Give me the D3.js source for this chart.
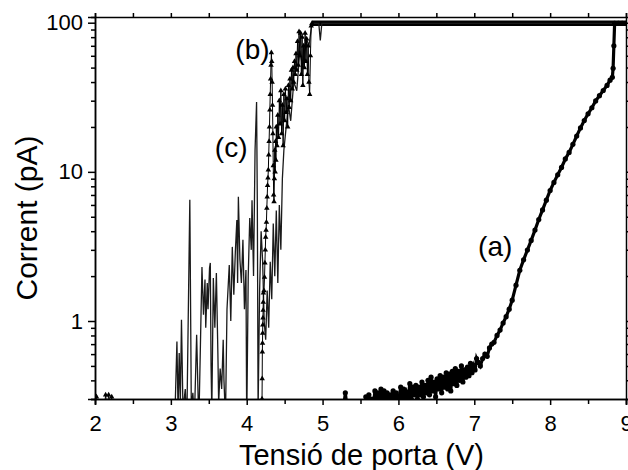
<!DOCTYPE html>
<html lang="ca">
<head>
<meta charset="UTF-8">
<title>Corrent - tensió de porta</title>
<script src="https://d3js.org/d3.v7.min.js"></script>
<style>
  body { margin: 0; background: #fff; }
  svg { display: block; font-family: "Liberation Sans", Arial, sans-serif; }
  .axis path, .axis line { stroke: #000; stroke-width: 1.5; }
  .axis text { font-size: 22px; fill: #000; }
  .lbl { font-size: 28px; fill: #000; }
  .title { font-size: 29px; fill: #000; }
</style>
</head>
<body>
<script>
const width = 628, height = 470;
const margin = {top: 17, right: 2, bottom: 71, left: 95};

// tick values
const xTicks = [2, 3, 4, 5, 6, 7, 8, 9];
const xMinor = [2.5, 3.5, 4.5, 5.5, 6.5, 7.5, 8.5];
const yTicks = [1, 10, 100];
const yMinor = [0.3, 0.4, 0.5, 0.6, 0.7, 0.8, 0.9, 2, 3, 4, 5, 6, 7, 8, 9, 20, 30, 40, 50, 60, 70, 80, 90];

// series (a): circles  [V, pA]
const serieA = [
  [5.25,0.2],[5.30,0.33],[5.35,0.2],[5.55,0.2],[5.57,0.31],[5.59,0.26],[5.61,0.32],[5.63,0.24],[5.65,0.30],
  [5.67,0.27],[5.69,0.34],[5.71,0.29],[5.73,0.33],[5.75,0.27],[5.77,0.35],[5.79,0.30],[5.81,0.34],[5.83,0.28],
  [5.85,0.33],[5.87,0.29],[5.89,0.32],[5.91,0.27],[5.93,0.34],[5.95,0.30],[5.97,0.33],[5.99,0.29],[6.01,0.31],
  [6.03,0.36],[6.05,0.30],[6.07,0.35],[6.09,0.29],[6.11,0.33],[6.13,0.31],[6.15,0.38],[6.17,0.30],[6.19,0.36],
  [6.21,0.32],[6.23,0.37],[6.25,0.30],[6.27,0.36],[6.29,0.32],[6.31,0.39],[6.33,0.31],[6.35,0.37],[6.37,0.33],
  [6.39,0.40],[6.41,0.32],[6.43,0.42],[6.45,0.34],[6.47,0.39],[6.49,0.31],[6.51,0.41],[6.53,0.35],[6.55,0.43],
  [6.57,0.33],[6.59,0.42],[6.61,0.36],[6.63,0.45],[6.65,0.35],[6.67,0.44],[6.69,0.34],[6.71,0.46],[6.73,0.38],
  [6.75,0.48],[6.77,0.37],[6.79,0.46],[6.81,0.40],[6.83,0.50],[6.85,0.39],[6.87,0.47],[6.89,0.42],[6.91,0.49],
  [6.93,0.43],[6.95,0.52],[6.97,0.45],[6.99,0.50],[7.01,0.47],[7.03,0.56],[7.05,0.53],[7.08,0.50],
  [7.11,0.56],[7.14,0.60],[7.17,0.58],[7.20,0.66],[7.23,0.70],[7.26,0.72],[7.30,0.80],[7.34,0.87],[7.38,0.97],
  [7.42,1.07],[7.46,1.20],[7.50,1.38],[7.55,1.74],[7.60,2.19],[7.65,2.57],[7.70,2.99],[7.75,3.47],[7.80,4.07],
  [7.85,4.79],[7.90,5.56],[7.95,6.46],[8.00,7.5],[8.05,8.5],[8.10,9.55],[8.15,10.7],[8.20,12.2],[8.25,13.5],
  [8.30,15.3],[8.35,17.4],[8.40,19.7],[8.45,22.1],[8.50,24.5],[8.55,26.9],[8.60,29.9],[8.65,32.4],[8.70,35.1],
  [8.75,38],[8.79,41.2],[8.82,43],[8.83,49.5],[8.84,70],[8.85,99],[8.90,99],[8.95,99],[9.00,99]
];

// series (b): triangles
const serieB = [
  [2.00,0.32],[2.02,0.31],[2.04,0.25],[2.08,0.2],[2.12,0.25],[2.14,0.32],[2.16,0.26],[2.18,0.32],[2.20,0.27],
  [2.22,0.31],[2.25,0.2],[4.20,0.2],[4.202,0.3],[4.204,0.41],[4.206,0.62],[4.208,0.71],[4.210,0.83],[4.212,0.94],
  [4.214,1.05],[4.216,1.18],[4.218,1.34],[4.220,1.54],[4.228,1.6],[4.235,1.97],[4.24,2.45],[4.245,3.0],[4.25,3.65],
  [4.255,4.06],[4.26,4.6],[4.265,5.7],[4.27,6.8],[4.275,8.1],[4.28,9.1],[4.285,10.3],[4.29,13],[4.295,16],[4.30,20],
  [4.305,26],[4.31,33],[4.315,42],[4.32,52],[4.325,63],[4.33,55],[4.335,40],[4.34,28],[4.345,18],[4.35,11],[4.355,7],
  [4.36,6.3],[4.365,9],[4.37,14],[4.375,10],[4.38,16],[4.385,12],[4.39,20],[4.40,15],[4.41,24],[4.42,17],[4.43,30],
  [4.44,21],[4.45,35],[4.46,18],[4.47,28],[4.48,15],[4.49,33],[4.50,22],[4.51,36],[4.52,25],[4.53,31],[4.54,20],
  [4.55,38],[4.56,27],[4.57,42],[4.58,30],[4.59,48],[4.60,36],[4.61,50],[4.62,40],[4.63,55],[4.64,45],[4.65,62],
  [4.66,48],[4.67,75],[4.68,52],[4.69,87],[4.70,60],[4.71,85],[4.72,45],[4.73,80],[4.74,38],[4.75,70],[4.76,50],
  [4.77,85],[4.78,55],[4.79,78],[4.80,45],[4.81,70],[4.82,40],[4.83,33],[4.84,60],[4.85,95],[4.86,99]
];

// series (c): line only
const serieC = [
  [3.05,0.2],[3.08,0.73],[3.095,0.25],[3.11,0.61],[3.125,0.28],[3.14,1.02],[3.16,0.25],[3.19,0.35],[3.21,0.2],
  [3.25,6.5],[3.27,0.25],[3.29,0.33],[3.31,0.22],[3.34,0.81],[3.36,0.3],[3.37,0.22],[3.39,0.7],[3.41,2.3],[3.43,1.1],
  [3.45,1.9],[3.46,0.9],[3.48,1.8],[3.49,1.2],[3.51,2.27],[3.52,2.45],[3.53,0.5],[3.54,0.25],[3.56,1.94],[3.58,0.9],
  [3.60,2.1],[3.62,0.6],[3.63,0.28],[3.65,0.48],[3.67,0.35],[3.69,0.75],[3.70,0.4],[3.72,0.22],[3.74,1.2],[3.77,2.37],
  [3.79,1.0],[3.81,3.14],[3.83,1.5],[3.85,2.9],[3.87,4.75],[3.88,1.8],[3.89,6.8],[3.91,2.6],[3.93,1.8],[3.95,3.5],
  [3.97,1.2],[3.99,2.2],[4.00,0.2],[4.02,2.0],[4.04,4.9],[4.06,3.0],[4.07,6.45],[4.09,2.0],[4.11,14],[4.13,29.4],
  [4.14,6],[4.15,0.25],[4.17,1.6],[4.19,4],[4.21,2.5],[4.23,1.0],[4.25,0.75],[4.27,1.6],[4.29,0.9],[4.31,2.5],
  [4.33,1.4],[4.35,4.5],[4.37,2.0],[4.39,5.5],[4.41,1.8],[4.43,6],[4.45,3],[4.47,9],[4.49,14],[4.52,20],[4.55,28],
  [4.58,22],[4.62,40],[4.66,35],[4.70,65],[4.74,50],[4.78,80],[4.82,70],[4.86,99],[4.95,99],[4.97,76],[4.99,99],[9.00,99]
];

// saturated read-out band
const serieSat = [[4.86,99],[9.00,99]];

const labels = [
  {text: "(a)", v: 7.05, i: 2.73},
  {text: "(b)", v: 3.85, i: 57},
  {text: "(c)", v: 3.58, i: 12.5}
];

const svg = d3.select("body").append("svg")
  .attr("width", width).attr("height", height);

const x = d3.scaleLinear().domain([2, 9]).range([margin.left, width - margin.right]);
const y = d3.scaleLog().domain([0.3, 109.2]).range([height - margin.bottom, margin.top]);

svg.append("defs").append("clipPath").attr("id", "plot")
  .append("rect")
  .attr("x", margin.left).attr("y", margin.top)
  .attr("width", width - margin.left - margin.right)
  .attr("height", height - margin.top - margin.bottom);

const g = svg.append("g").attr("clip-path", "url(#plot)");
const line = d3.line().x(d => x(d[0])).y(d => y(d[1]));

g.append("path").datum(serieSat)
  .attr("d", line).attr("fill", "none").attr("stroke", "#000").attr("stroke-width", 5.5);

g.append("path").datum(serieC)
  .attr("d", line).attr("fill", "none").attr("stroke", "#1a1a1a").attr("stroke-width", 1.3);

g.append("path").datum(serieB)
  .attr("d", line).attr("fill", "none").attr("stroke", "#000").attr("stroke-width", 1);

g.selectAll("path.tri").data(serieB).enter().append("path").attr("class", "tri")
  .attr("d", d3.symbol().type(d3.symbolTriangle).size(13))
  .attr("transform", d => `translate(${x(d[0])},${y(d[1])})`)
  .attr("fill", "#000");

g.append("path").datum(serieA)
  .attr("d", line).attr("fill", "none").attr("stroke", "#000").attr("stroke-width", 3.2);

g.selectAll("circle.dot").data(serieA).enter().append("circle").attr("class", "dot")
  .attr("cx", d => x(d[0])).attr("cy", d => y(d[1])).attr("r", 2.6)
  .attr("fill", "#000");

// axes
const bottom = height - margin.bottom, right = width - margin.right;
svg.append("g").attr("class", "axis").attr("transform", `translate(0,${bottom})`)
  .call(d3.axisBottom(x).tickValues(xTicks).tickSize(6).tickPadding(10).tickFormat(d3.format("d")));
svg.append("g").attr("class", "axis").attr("transform", `translate(0,${bottom})`)
  .call(d3.axisBottom(x).tickValues(xMinor).tickSize(5).tickFormat(""));
svg.append("g").attr("class", "axis").attr("transform", `translate(0,${margin.top})`)
  .call(d3.axisTop(x).tickValues(xTicks.concat(xMinor)).tickSize(4).tickFormat(""));

svg.append("g").attr("class", "axis").attr("transform", `translate(${margin.left},0)`)
  .call(d3.axisLeft(y).tickValues(yTicks).tickSize(7).tickPadding(5).tickFormat(d3.format("d")));
svg.append("g").attr("class", "axis").attr("transform", `translate(${margin.left},0)`)
  .call(d3.axisLeft(y).tickValues(yMinor).tickSize(4).tickFormat(""));
svg.append("g").attr("class", "axis").attr("transform", `translate(${right},0)`)
  .call(d3.axisRight(y).tickValues(yTicks.concat(yMinor)).tickSize(4).tickFormat(""));

// annotations
svg.selectAll("text.lbl").data(labels).enter().append("text").attr("class", "lbl")
  .attr("x", d => x(d.v)).attr("y", d => y(d.i))
  .text(d => d.text);

svg.append("text").attr("class", "title")
  .attr("x", (margin.left + right) / 2 + 1).attr("y", 465)
  .attr("text-anchor", "middle")
  .text("Tensió de porta (V)");

svg.append("text").attr("class", "title")
  .attr("transform", "translate(37,218) rotate(-90)")
  .attr("text-anchor", "middle")
  .style("font-size", "30px")
  .text("Corrent (pA)");
</script>
</body>
</html>
